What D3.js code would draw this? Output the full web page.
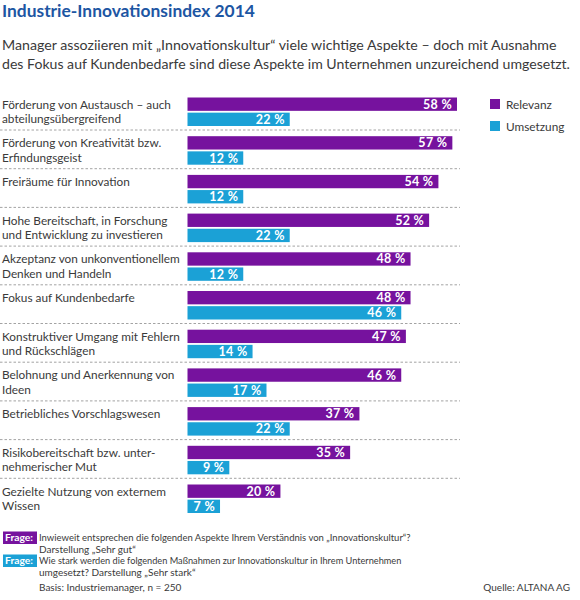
<!DOCTYPE html>
<html><head><meta charset="utf-8">
<script src="https://cdn.jsdelivr.net/npm/d3@7"></script>
<style>
body{margin:0;background:#fff;}
svg text{font-family:Lato,sans-serif;}
</style></head>
<body><svg id="c" width="580" height="600"></svg>
<script>
const categories = [
  ["Förderung von Austausch – auch","abteilungsübergreifend"],
  ["Förderung von Kreativität bzw.","Erfindungsgeist"],
  ["Freiräume für Innovation"],
  ["Hohe Bereitschaft, in Forschung","und Entwicklung zu investieren"],
  ["Akzeptanz von unkonventionellem","Denken und Handeln"],
  ["Fokus auf Kundenbedarfe"],
  ["Konstruktiver Umgang mit Fehlern","und Rückschlägen"],
  ["Belohnung und Anerkennung von","Ideen"],
  ["Betriebliches Vorschlagswesen"],
  ["Risikobereitschaft bzw. unter-","nehmerischer Mut"],
  ["Gezielte Nutzung von externem","Wissen"]
];
const relevanz  = [58,57,54,52,48,48,47,46,37,35,20];
const umsetzung = [22,12,12,22,12,46,14,17,22,9,7];
const seriesNames = ["Relevanz","Umsetzung"];
const seriesColors = ["#76129e","#1ba1d6"];
const title = "Industrie-Innovationsindex 2014";
const subtitle = ["Manager assoziieren mit „Innovationskultur“ viele wichtige Aspekte – doch mit Ausnahme",
                  "des Fokus auf Kundenbedarfe sind diese Aspekte im Unternehmen unzureichend umgesetzt."];
const footQuestions = [
  ["Inwieweit entsprechen die folgenden Aspekte Ihrem Verständnis von „Innovationskultur“?","Darstellung „Sehr gut“"],
  ["Wie stark werden die folgenden Maßnahmen zur Innovationskultur in Ihrem Unternehmen","umgesetzt? Darstellung „Sehr stark“"]
];
const basis = "Basis: Industriemanager, n = 250";
const quelle = "Quelle: ALTANA AG";

const svg = d3.select("#c");
const txt = "#3a3a3a";

function fit(sel, maxW){
  const n = sel.node(); let fs = +sel.attr("font-size");
  while(n.getComputedTextLength() > maxW && fs > 6){ fs -= 0.1; sel.attr("font-size", fs); }
  return sel;
}

fit(svg.append("text").attr("x",2).attr("y",17).attr("font-size",18).attr("font-weight","bold")
  .attr("fill","#1d56a3").text(title), 254);
subtitle.forEach((s,i)=>fit(svg.append("text").attr("x",2).attr("y",50+i*19).attr("font-size",14.5).attr("fill",txt).text(s), i?568:557));

const idx = d3.range(categories.length);
const y = d3.scaleBand().domain(idx).range([97.5, 97.5+38.7*categories.length]).paddingInner(0).paddingOuter(0);
const ys = d3.scaleBand().domain(seriesNames).range([0,28.5]).paddingInner(0.12);
const x = d3.scaleLinear().domain([0,58]).range([187.5,457]);

svg.append("g").selectAll("line").data(idx.slice(0,-1)).join("line")
  .attr("x1",0).attr("x2",460).attr("y1",d=>y(d)+32.5).attr("y2",d=>y(d)+32.5)
  .attr("stroke","#8c8c8c").attr("stroke-width",0.8).attr("stroke-dasharray","2.5,2");

// labels: common font size so the widest line fits left of the bars
const lab = svg.append("g");
const labTexts = [];
categories.forEach((c,i)=>{
  c.forEach((line,j)=>labTexts.push(lab.append("text").attr("x",2).attr("y",y(i)+11+j*14.5)
    .attr("font-size",12.8).attr("fill",txt).text(line)));
});
let lfs = 12.8;
const widest = () => d3.max(labTexts, t=>t.node().getComputedTextLength());
while(widest() > 179 && lfs > 8){ lfs -= 0.1; labTexts.forEach(t=>t.attr("font-size",lfs)); }

const data = [];
idx.forEach(i=>{
  data.push({i, s:"Relevanz", v:relevanz[i], c:seriesColors[0]});
  data.push({i, s:"Umsetzung", v:umsetzung[i], c:seriesColors[1]});
});
const g = svg.append("g");
g.selectAll("rect").data(data).join("rect")
  .attr("x",x(0)).attr("y",d=>y(d.i)+ys(d.s)).attr("width",d=>x(d.v)-x(0)).attr("height",ys.bandwidth())
  .attr("fill",d=>d.c);
g.selectAll("text").data(data).join("text")
  .attr("x",d=>x(d.v)-5).attr("y",d=>y(d.i)+ys(d.s)+ys.bandwidth()/2+4.5)
  .attr("text-anchor","end").attr("font-size",12.5).attr("font-weight","bold").attr("fill","#fff")
  .attr("letter-spacing",0.3)
  .text(d=>d.v+" %");

seriesNames.forEach((s,i)=>{
  svg.append("rect").attr("x",490).attr("y",99+i*22).attr("width",10).attr("height",10).attr("fill",seriesColors[i]);
  svg.append("text").attr("x",506).attr("y",108.5+i*22).attr("font-size",lfs).attr("fill",txt).text(s);
});

const fy = [541, 564];
footQuestions.forEach((q,i)=>{
  svg.append("rect").attr("x",3).attr("y",fy[i]-9.5).attr("width",34).attr("height",12.5).attr("fill",seriesColors[i]);
  svg.append("text").attr("x",5).attr("y",fy[i]).attr("font-size",10.3).attr("font-weight","bold").attr("fill","#fff").text("Frage:");
  q.forEach((l,j)=>{
    const t = svg.append("text").attr("x",39).attr("y",fy[i]+j*11.5).attr("font-size",10).attr("fill",txt).text(l);
    if(j===0) fit(t, i?366:372);
  });
});
svg.append("text").attr("x",39).attr("y",591).attr("font-size",10).attr("fill",txt).text(basis);
svg.append("text").attr("x",570).attr("y",591).attr("text-anchor","end").attr("font-size",10).attr("fill",txt).text(quelle);
</script></body></html>
